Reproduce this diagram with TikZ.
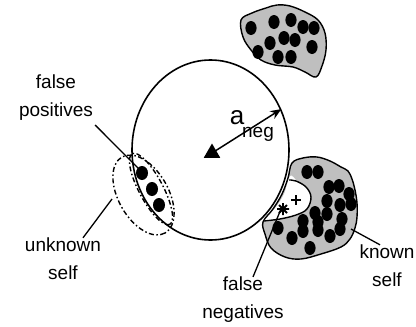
\documentclass[tikz,border=0pt]{standalone}
\usepackage{fontspec}
\setmainfont{Liberation Sans}
\usetikzlibrary{arrows.meta,shapes.geometric}

\begin{document}
\begin{tikzpicture}[x=1pt, y=-1pt, >={Stealth[length=11pt,width=9pt]},
  lbl/.style={font=\fontsize{19}{28}\selectfont, align=center, inner sep=0pt},
  blob/.style={draw, line width=1.4pt, fill=gray!50},
  fence/.style={line width=1.4pt, dash pattern=on 5pt off 2.5pt on 1.5pt off 2.5pt},
  lead/.style={line width=1.3pt}]
  \useasboundingbox (0,0) rectangle (416,327);
  % other self, far away
  \draw[blob] plot[smooth cycle, tension=0.6] coordinates {(241,20) (252,13) (266,8) (277,5) (290,6) (305,12) (318,20) (325,33) (326,50) (322,66) (316,77) (305,72) (293,67) (275,65) (261,60) (251,50) (243,37)};
  \foreach \x/\y in {251/28,274/22,291/20,303/27,314/28,270/43,284/38,295/40,258/52,278/57,291/57,312/47}
    \fill (\x,\y) ellipse (5.6 and 7);
  % known self
  \fill[gray!50] plot[smooth cycle, tension=0.6] coordinates {(292,163) (303,158) (317,157) (330,161) (341,167) (348,171) (352,179) (355,190) (357,203) (357,217) (355,228) (350,239) (341,247) (321,254) (301,259) (285,257) (271,248) (265,234) (263,222) (273,209) (282,194) (288,178)};
  \fill[white] plot[smooth cycle, tension=0.6] coordinates {(290,176) (284,194) (275,208) (262,221) (280,219) (296,215) (307,209) (311,197) (306,187) (297,181)};
  \draw[line width=1.4pt] plot[smooth cycle, tension=0.6] coordinates {(292,163) (303,158) (317,157) (330,161) (341,167) (348,171) (352,179) (355,190) (357,203) (357,217) (355,228) (350,239) (341,247) (321,254) (301,259) (285,257) (271,248) (265,234) (263,222) (273,209) (282,194) (288,178)};
  \draw[line width=1.4pt] plot[smooth, tension=0.6] coordinates {(264,221) (280,219) (296,215) (307,209) (311,197) (306,187) (296,181) (289,180)};
  \foreach \x/\y in {307/172,318/172,329/187,339/186,349/194,327/201,340/205,351/204,315/213,327/214,342/219,303/221,318/222,278/228,292/238,303/231,318/230,330/236,340/229,310/248}
    \fill (\x,\y) ellipse (5.6 and 7);
  \draw[line width=2pt] (291,200) -- (301,200) (296,195) -- (296,205);
  \draw[line width=1.8pt] (277,209) -- (289,209) (283,203) -- (283,215) (279,205) -- (287,213) (279,213) -- (287,205);
  % unknown self and the detector
  \draw[fence, rotate around={-60.5:(143.5,195)}] (143.5,195) ellipse (43.7 and 25);
  \draw[fence, rotate around={-62:(151,189)}] (151,189) ellipse (40 and 12);
  \foreach \x/\y in {142/173,152/189,159/205}
    \fill (\x,\y) ellipse (6 and 7);
  \node[draw, ellipse, line width=1.6pt, minimum width=157pt, minimum height=180pt, inner sep=0pt] (det) at (210.5,150) {};
  \node[regular polygon, regular polygon sides=3, fill, inner sep=0pt, minimum size=19pt] (ctr) at (212,153) {};
  \draw[->, line width=1.5pt] (ctr.center) -- (det.30);
  \node[font=\fontsize{26}{26}\selectfont, inner sep=0pt] (rad) at (237,118) {a};
  \node[lbl] (neg) at (258,134) {neg};
  % labels
  \node[lbl] (fp) at (56,98) {false\\positives};
  \node[lbl] (us) at (63,259) {unknown\\self};
  \node[lbl] (fn) at (243,300) {false\\negatives};
  \node[lbl] (ks) at (387,266) {known\\self};
  \coordinate (fpEnd) at (140,170);
  \coordinate (usEnd) at (112,199);
  \coordinate (fnEnd) at (281,209);
  \coordinate (ksEnd) at (351,229);
  \draw[lead] ([shift={(2pt,-4pt)}]fp.south east) -- (fpEnd);
  \draw[lead] ([xshift=20pt]us.north) -- (usEnd);
  \draw[lead] ([xshift=10pt]fn.north) -- (fnEnd);
  \draw[lead] (ksEnd) -- ([xshift=-7pt]ks.north);
\end{tikzpicture}
\end{document}
